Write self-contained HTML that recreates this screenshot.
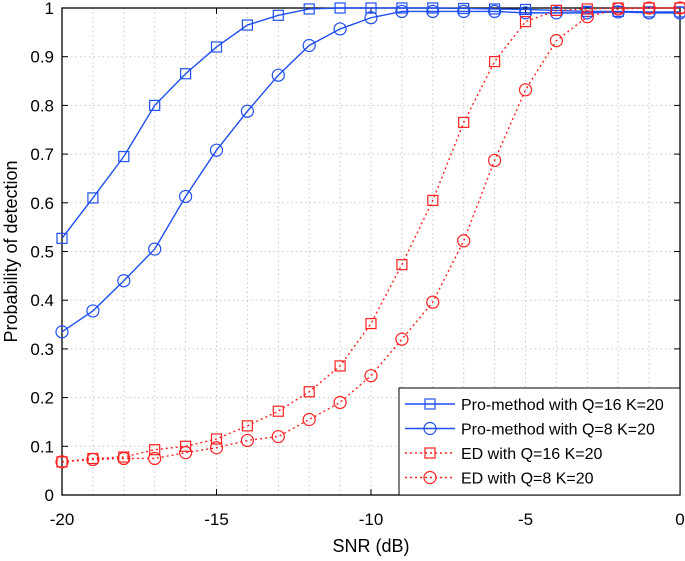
<!DOCTYPE html>
<html><head><meta charset="utf-8"><style>
body{margin:0;background:#fff}
svg text{font-family:"Liberation Sans",sans-serif;fill:#000}
</style></head><body>
<svg id="c" width="685" height="556" xmlns="http://www.w3.org/2000/svg"></svg>
<script>
const snr=[-20,-19,-18,-17,-16,-15,-14,-13,-12,-11,-10,-9,-8,-7,-6,-5,-4,-3,-2,-1,0];
const proQ16=[0.527,0.61,0.695,0.80,0.865,0.92,0.965,0.985,0.998,1,1,1,1,0.999,0.998,0.997,0.995,0.993,0.993,0.992,0.992];
const proQ8=[0.335,0.378,0.44,0.505,0.613,0.708,0.788,0.862,0.923,0.957,0.98,0.993,0.993,0.993,0.993,0.99,0.99,0.99,0.992,0.99,0.99];
const edQ16=[0.068,0.075,0.078,0.093,0.1,0.115,0.142,0.172,0.212,0.265,0.352,0.473,0.605,0.765,0.89,0.972,0.995,0.998,1,1,1];
const edQ8=[0.068,0.073,0.075,0.075,0.087,0.097,0.112,0.12,0.155,0.19,0.245,0.32,0.396,0.522,0.687,0.832,0.933,0.982,0.998,1,1];
const xTicks=[-20,-15,-10,-5,0];
const yTicks=[0,0.1,0.2,0.3,0.4,0.5,0.6,0.7,0.8,0.9,1];
const L=62,R=680,T=8,B=495;
const sx=v=>L+(v+20)/20*(R-L), sy=v=>B-v*(B-T);
const svg=document.getElementById('c');const NS='http://www.w3.org/2000/svg';
function el(t,a,p){const e=document.createElementNS(NS,t);for(const k in a)e.setAttribute(k,a[k]);(p||svg).appendChild(e);return e;}
const grid=el('g',{});


for(let x=-19;x<0;x++)el('line',{x1:sx(x),x2:sx(x),y1:T,y2:B,stroke:'#c8c8c8','stroke-dasharray':'1.5,3'},grid);
yTicks.slice(1,-1).forEach(v=>el('line',{x1:L,x2:R,y1:sy(v),y2:sy(v),stroke:'#c8c8c8','stroke-dasharray':'1.5,3'},grid));
const ax=el('g',{});


el('rect',{x:L,y:T,width:R-L,height:B-T,fill:'none',stroke:'#000','stroke-width':1.3},ax);
xTicks.forEach(v=>{el('line',{x1:sx(v),x2:sx(v),y1:B,y2:B-6,stroke:'#000'},ax);el('line',{x1:sx(v),x2:sx(v),y1:T,y2:T+6,stroke:'#000'},ax);
const t=el('text',{x:sx(v),y:B+30,'text-anchor':'middle','font-size':17},ax);t.textContent=v;

});
yTicks.forEach(v=>{el('line',{x1:L,x2:L+6,y1:sy(v),y2:sy(v),stroke:'#000'},ax);el('line',{x1:R,x2:R-6,y1:sy(v),y2:sy(v),stroke:'#000'},ax);
const t=el('text',{x:L-8,y:sy(v)+6,'text-anchor':'end','font-size':17},ax);t.textContent=v;

});
const xt=el('text',{x:(L+R)/2,y:552,'text-anchor':'middle','font-size':18});xt.textContent='SNR (dB)';


const yt=el('text',{x:0,y:0,'text-anchor':'middle','font-size':18,transform:`translate(17,${(T+B)/2}) rotate(-90)`});yt.textContent='Probability of detection';


function marker(g,x,y,shape,col){if(shape==='s')el('rect',{x:x-5,y:y-5,width:10,height:10,fill:'none',stroke:col,'stroke-width':1.2},g);else el('circle',{cx:x,cy:y,r:6,fill:'none',stroke:col,'stroke-width':1.2},g);}
const series=[[proQ16,'#1f4ff0','s',null,'series-pro-q16'],[proQ8,'#1f4ff0','o',null,'series-pro-q8'],[edQ16,'#ff2020','s','2,3','series-ed-q16'],[edQ8,'#ff2020','o','2,3','series-ed-q8']];
series.forEach(([d,c,m,da,n])=>{const g=el('g',{});


const a={points:d.map((v,i)=>sx(snr[i])+','+sy(v)).join(' '),fill:'none',stroke:c,'stroke-width':1.4};if(da)a['stroke-dasharray']=da;el('polyline',a,g);
d.forEach((v,i)=>marker(g,sx(snr[i]),sy(v),m,c));});
const lg=el('g',{});


el('rect',{x:399,y:388,width:281,height:107,fill:'#fff',stroke:'#000','stroke-width':1},lg);
const labels=['Pro-method with Q=16 K=20','Pro-method with Q=8 K=20','ED with Q=16 K=20','ED with Q=8 K=20'];
labels.forEach((s,i)=>{const y=404+i*24.5;const [,c,m,da]=series[i];const a={x1:405,x2:455,y1:y,y2:y,stroke:c,'stroke-width':1.4};if(da)a['stroke-dasharray']=da;el('line',a,lg);marker(lg,430,y,m,c);
const t=el('text',{x:461,y:y+6,'font-size':16},lg);t.textContent=s;

});
</script>
</body></html>
